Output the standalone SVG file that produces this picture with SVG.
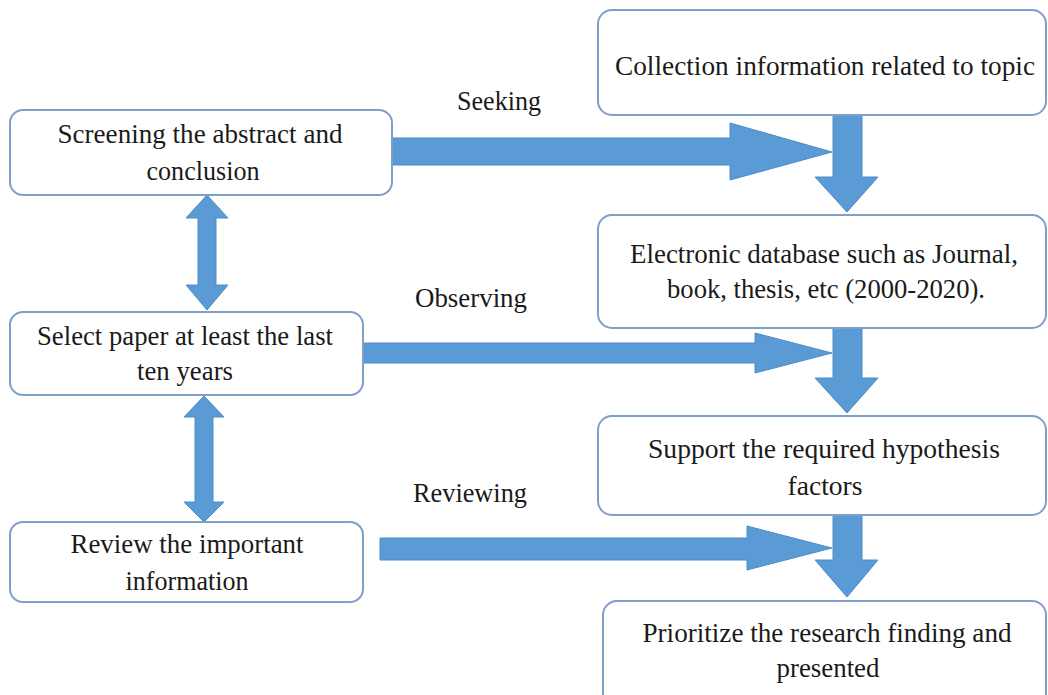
<svg xmlns="http://www.w3.org/2000/svg" width="1048" height="695" viewBox="0 0 1048 695">
  <style>
    .box { fill: #ffffff; stroke: #7f9fc8; stroke-width: 2; }
    .arrow { fill: #5b9bd5; stroke: #4f8cc6; stroke-width: 1; }
    text { fill: #1a1a1a; text-anchor: middle; }
    .txt { font-size: 28px; }
    .lbl { font-size: 27px; }
  </style>
  <rect width="1048" height="695" fill="#ffffff"/>

  <!-- connectors -->
  <g id="connectors">
    <!-- horizontal block arrows into the right column -->
    <polygon class="arrow" points="392,138 730,138 730,123 832,152 730,180 730,165 392,165"/>
    <polygon class="arrow" points="363,343 755,343 755,333 832,353 755,373 755,363 363,363"/>
    <polygon class="arrow" points="380,538 747,538 747,526 832,548 747,570 747,560 380,560"/>
    <!-- downward block arrows in the right column -->
    <polygon class="arrow" points="833,115 862,115 862,177 878,177 847,212 815,177 833,177"/>
    <polygon class="arrow" points="833,328 862,328 862,378 878,378 847,413 815,378 833,378"/>
    <polygon class="arrow" points="833,515 862,515 862,560 878,560 847,597 815,560 833,560"/>
    <!-- two-way arrows between left boxes -->
    <polygon class="arrow" points="207,195 228,218 216,218 216,285 228,285 207,310 186,285 198,285 198,218 186,218"/>
    <polygon class="arrow" points="204,396 224,417 213,417 213,502 224,502 204,522 184,502 195,502 195,417 184,417"/>
  </g>

  <g font-family="Liberation Serif, Times New Roman, serif">
  <!-- arrow labels -->
  <g id="labels">
    <text class="lbl" x="499" y="110" textLength="84" lengthAdjust="spacingAndGlyphs">Seeking</text>
    <text class="lbl" x="471" y="307" textLength="112" lengthAdjust="spacingAndGlyphs">Observing</text>
    <text class="lbl" x="470" y="502" textLength="114" lengthAdjust="spacingAndGlyphs">Reviewing</text>
  </g>

  <!-- left column -->
  <g id="screening">
    <rect class="box" x="10" y="110" width="382" height="85" rx="13"/>
    <text class="txt" x="200" y="143" textLength="285" lengthAdjust="spacingAndGlyphs">Screening the abstract and</text>
    <text class="txt" x="203" y="180" textLength="113" lengthAdjust="spacingAndGlyphs">conclusion</text>
  </g>
  <g id="select-paper">
    <rect class="box" x="10" y="312" width="353" height="83" rx="13"/>
    <text class="txt" x="185" y="345" textLength="296" lengthAdjust="spacingAndGlyphs">Select paper at least the last</text>
    <text class="txt" x="185" y="380" textLength="96" lengthAdjust="spacingAndGlyphs">ten years</text>
  </g>
  <g id="review">
    <rect class="box" x="10" y="522" width="353" height="80" rx="13"/>
    <text class="txt" x="187" y="553" textLength="233" lengthAdjust="spacingAndGlyphs">Review the important</text>
    <text class="txt" x="187" y="590" textLength="123" lengthAdjust="spacingAndGlyphs">information</text>
  </g>

  <!-- right column -->
  <g id="collection">
    <rect class="box" x="598" y="10" width="448" height="105" rx="14"/>
    <text class="txt" x="825" y="75" textLength="420" lengthAdjust="spacingAndGlyphs">Collection information related to topic</text>
  </g>
  <g id="database">
    <rect class="box" x="598" y="215" width="448" height="113" rx="14"/>
    <text class="txt" x="824" y="263" textLength="388" lengthAdjust="spacingAndGlyphs">Electronic database such as Journal,</text>
    <text class="txt" x="826" y="298" textLength="318" lengthAdjust="spacingAndGlyphs">book, thesis, etc (2000-2020).</text>
  </g>
  <g id="support">
    <rect class="box" x="598" y="416" width="448" height="99" rx="14"/>
    <text class="txt" x="824" y="458" textLength="352" lengthAdjust="spacingAndGlyphs">Support the required hypothesis</text>
    <text class="txt" x="825" y="495" textLength="75" lengthAdjust="spacingAndGlyphs">factors</text>
  </g>
  <g id="prioritize">
    <rect class="box" x="603" y="601" width="443" height="110" rx="14"/>
    <text class="txt" x="827" y="642" textLength="369" lengthAdjust="spacingAndGlyphs">Prioritize the research finding and</text>
    <text class="txt" x="828" y="677" textLength="103" lengthAdjust="spacingAndGlyphs">presented</text>
  </g>
  </g>
</svg>
